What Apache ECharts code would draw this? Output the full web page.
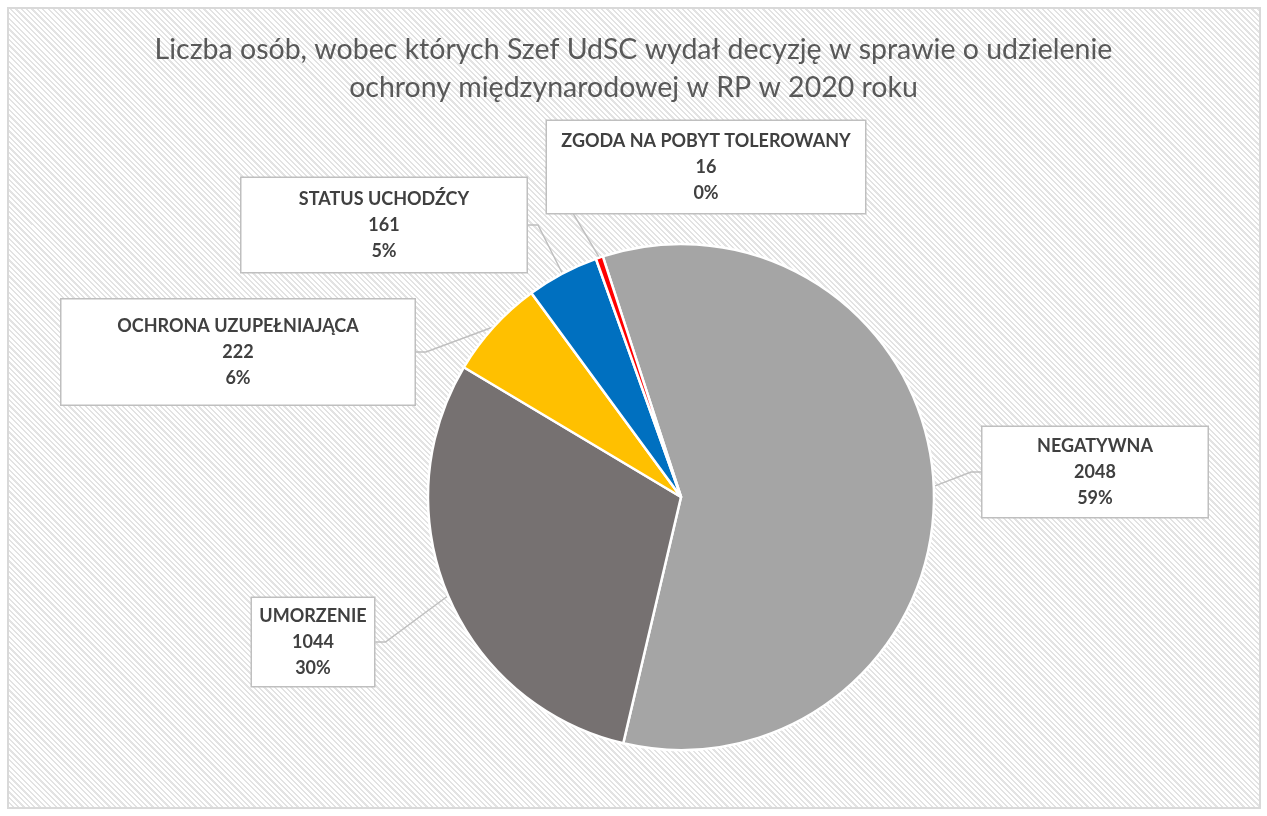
<!DOCTYPE html>
<html>
<head>
<meta charset="utf-8">
<script src="https://cdn.jsdelivr.net/npm/echarts@6/dist/echarts.min.js"></script>
<style>
  html, body { margin: 0; padding: 0; background: #fff; }
  .frame {
    position: absolute;
    left: 7px; top: 7px;
    width: 1250px; height: 798px;
    border: 2px solid #d9d9d9;
    background: repeating-linear-gradient(45deg, #fff 0, #fff 2.2px, #e3e3e3 2.2px, #e3e3e3 3.8px);
  }
  #chart { position: absolute; left: 0; top: 0; width: 1267px; height: 816px; }
</style>
</head>
<body>
<div class="frame"></div>
<div id="chart"></div>
<script>
// Liczba osób wg decyzji Szefa UdSC, 2020
const categories = ['NEGATYWNA', 'UMORZENIE', 'OCHRONA UZUPEŁNIAJĄCA', 'STATUS UCHODŹCY', 'ZGODA NA POBYT TOLEROWANY']
const values = [2048, 1044, 222, 161, 16]
const colors = ['#a5a5a5', '#767171', '#ffc000', '#0070c0', '#ff0000']

// położenie i rozmiar ramek z etykietami (środek x, y, szerokość, wysokość)
const labelBoxes = [
  [1095, 472, 228, 90],
  [313, 642, 125, 88],
  [238, 352, 356, 105],
  [384, 225, 288, 94],
  [706, 167, 321, 92]
]

const total = values.reduce((a, b) => a + b, 0)
const lineH = 26

const option = {
  animation: false,
  title: {
    text: 'Liczba osób, wobec których Szef UdSC wydał decyzję w sprawie o udzielenie\nochrony międzynarodowej w RP w 2020 roku',
    left: 'center',
    top: 26,
    textStyle: {
      fontFamily: 'Lato',
      fontWeight: 'normal',
      fontSize: 28.5,
      lineHeight: 38,
      color: '#595959'
    }
  },
  series: [
    {
      type: 'pie',
      center: [681, 497],
      radius: 253,
      startAngle: 108,
      clockwise: true,
      itemStyle: { borderColor: '#fff', borderWidth: 2.5 },
      label: {
        show: true,
        position: 'outside',
        fontFamily: 'Lato',
        fontWeight: 'bold',
        fontSize: 18,
        lineHeight: lineH,
        color: '#404040',
        align: 'center',
        backgroundColor: '#fff',
        borderColor: '#bfbfbf',
        borderWidth: 1.5,
        formatter: p => p.name + '\n' + p.value + '\n' + Math.round(p.value / total * 100) + '%'
      },
      labelLine: {
        show: true,
        length: 20,
        length2: 10,
        lineStyle: { color: '#bfbfbf', width: 1.5 }
      },
      labelLayout: p => {
        const b = labelBoxes[p.dataIndex]
        return { x: b[0], y: b[1], align: 'center', verticalAlign: 'middle' }
      },
      data: categories.map((name, i) => {
        const b = labelBoxes[i]
        const pv = (b[3] - 3 * lineH) / 2
        return {
          name,
          value: values[i],
          itemStyle: { color: colors[i] },
          label: { width: b[2] - 3, padding: [pv, 0, pv, 0] }
        }
      })
    }
  ]
}

const myChart = echarts.init(document.getElementById('chart'))
myChart.setOption(option)
</script>
</body>
</html>
